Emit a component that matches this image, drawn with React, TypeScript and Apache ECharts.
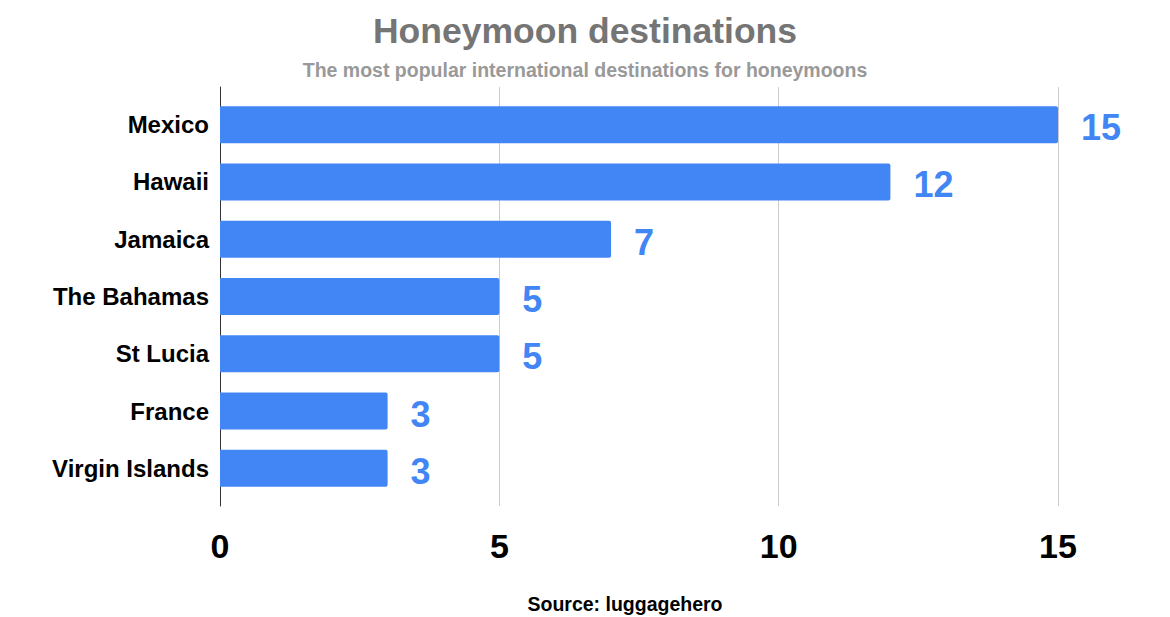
import React, { useEffect, useRef } from "react";
import * as echarts from "echarts";

const destinations = [
  "Mexico",
  "Hawaii",
  "Jamaica",
  "The Bahamas",
  "St Lucia",
  "France",
  "Virgin Islands",
];
const counts = [15, 12, 7, 5, 5, 3, 3];

const FONT = "Arial, 'Liberation Sans', sans-serif";

const App: React.FC = () => {
  const chartRef = useRef<HTMLDivElement>(null);

  useEffect(() => {
    if (!chartRef.current) return;
    const chart = echarts.init(chartRef.current, undefined, { renderer: "svg" });

    const option: echarts.EChartsOption = {
      animation: false,
      backgroundColor: "#ffffff",
      title: [
        {
          text: "Honeymoon destinations",
          left: "center",
          top: 8,
          textStyle: {
            fontFamily: FONT,
            fontSize: 35.5,
            fontWeight: "bold",
            color: "#757575",
          },
        },
        {
          text: "The most popular international destinations for honeymoons",
          left: "center",
          top: 55,
          textStyle: {
            fontFamily: FONT,
            fontSize: 19.5,
            fontWeight: "bold",
            color: "#999999",
          },
        },
      ],
      // grid 0 draws the frame (axis line, grid lines, ticks); grid 1 holds the bars
      grid: [
        { left: 220, right: 112, top: 87, bottom: 111 },
        { left: 220, right: 112, top: 96, bottom: 120 },
      ],
      xAxis: [
        {
          type: "value",
          gridIndex: 0,
          min: 0,
          max: 15,
          interval: 5,
          axisLine: { show: false },
          axisTick: { show: false },
          axisLabel: {
            margin: 23,
            fontFamily: FONT,
            fontSize: 34,
            fontWeight: "bold",
            color: "#000000",
          },
          splitLine: { lineStyle: { color: "#cccccc", width: 1 } },
        },
        {
          type: "value",
          gridIndex: 1,
          min: 0,
          max: 15,
          show: false,
        },
      ],
      yAxis: [
        {
          type: "category",
          gridIndex: 0,
          data: destinations,
          axisLine: { show: true, lineStyle: { color: "#333333", width: 1 } },
          axisTick: { show: false },
          axisLabel: { show: false },
        },
        {
          type: "category",
          gridIndex: 1,
          inverse: true,
          data: destinations,
          axisLine: { show: false },
          axisTick: { show: false },
          axisLabel: {
            margin: 11,
            fontFamily: FONT,
            fontSize: 24,
            fontWeight: "bold",
            color: "#000000",
          },
        },
      ],
      series: [
        {
          type: "bar",
          xAxisIndex: 1,
          yAxisIndex: 1,
          data: counts,
          barWidth: 37,
          itemStyle: { color: "#4285f4", borderRadius: [0, 2, 2, 0] },
          label: {
            show: true,
            position: "right",
            distance: 23,
            offset: [0, 3],
            fontFamily: FONT,
            fontSize: 36,
            fontWeight: "bold",
            color: "#4285f4",
          },
        },
      ],
      graphic: [
        {
          type: "text",
          x: 625,
          y: 594,
          style: {
            text: "Source: luggagehero",
            align: "center",
            verticalAlign: "top",
            fontFamily: FONT,
            fontSize: 19.5,
            fontWeight: "bold",
            fill: "#000000",
          },
        },
      ],
    };

    chart.setOption(option);
    return () => {
      chart.dispose();
    };
  }, []);

  return (
    <div
      ref={chartRef}
      style={{ position: "fixed", left: 0, top: 0, width: 1170, height: 617 }}
      aria-label="Bar chart of honeymoon destinations"
    />
  );
};

export default App;
